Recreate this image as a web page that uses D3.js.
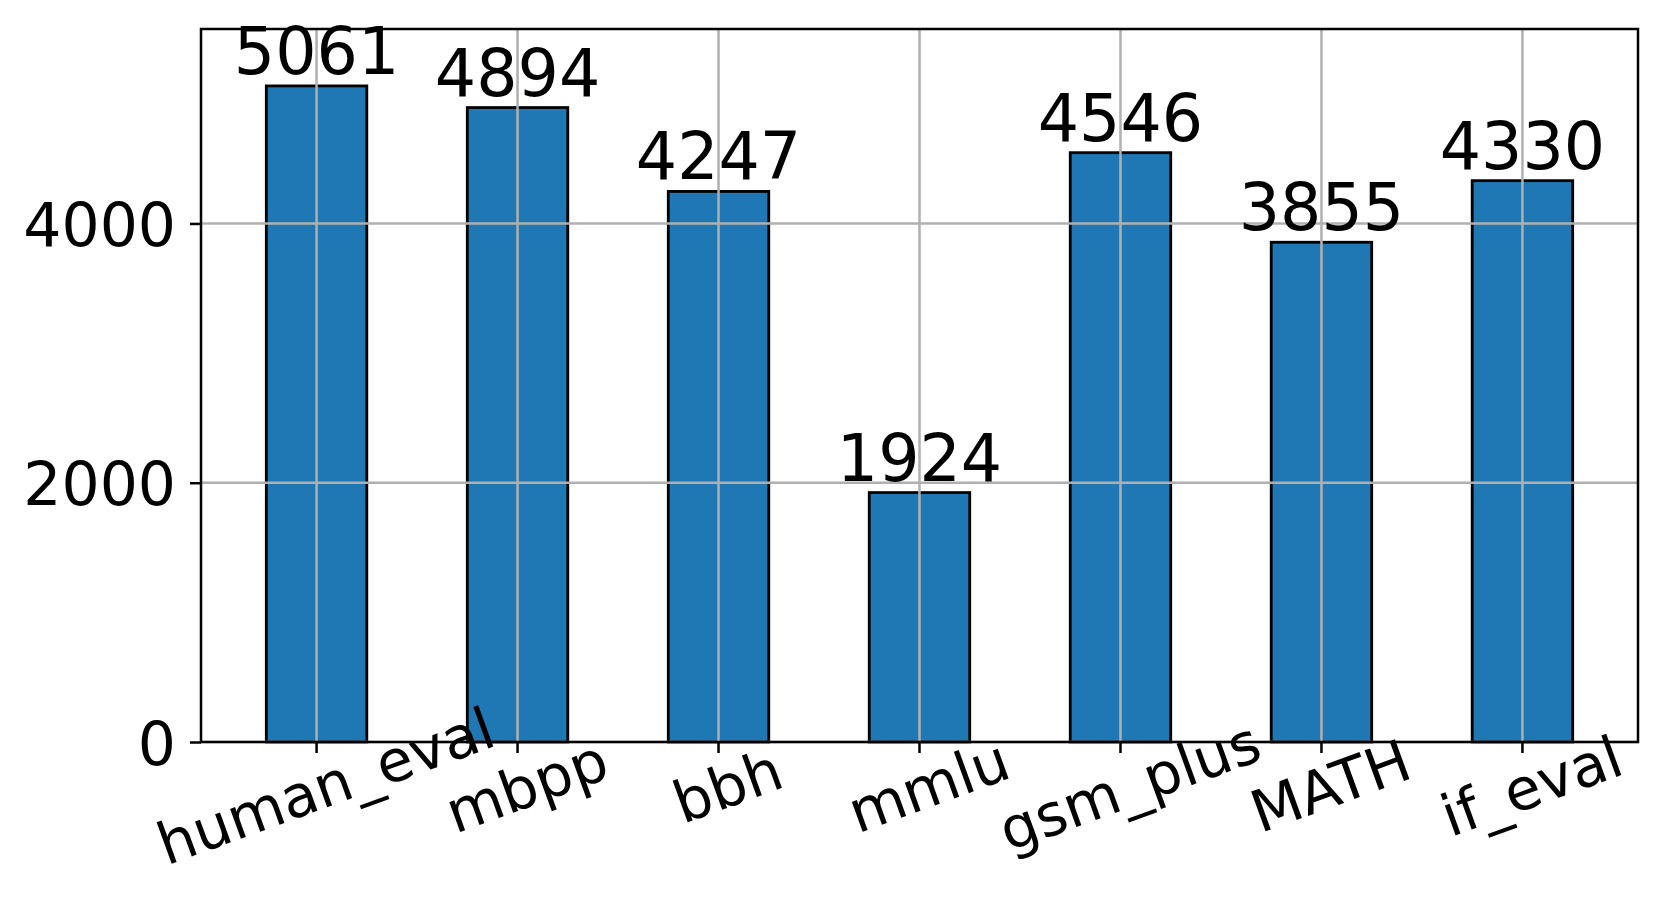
<!DOCTYPE html>
<html>
<head>
<meta charset="utf-8">
<script src="https://cdn.jsdelivr.net/npm/d3@7"></script>
<style>
  body { margin: 0; background: #fff; }
  text { font-family: "DejaVu Sans", sans-serif; fill: #000; }
</style>
</head>
<body>
<div id="chart"></div>
<script>
const categories = ["human_eval", "mbpp", "bbh", "mmlu", "gsm_plus", "MATH", "if_eval"];
const counts = [5061, 4894, 4247, 1924, 4546, 3855, 4330];
const yTicks = [0, 2000, 4000];

const W = 1661, H = 903;
const margin = {top: 29, right: 23, bottom: 161, left: 201};
const width = W - margin.left - margin.right,
	height = H - margin.top - margin.bottom;

const svg = d3.select("#chart")
	.append("svg")
	.attr("width", W)
	.attr("height", H);

const g = svg.append("g")
	.attr("transform", "translate(" + margin.left + "," + margin.top + ")");

const xScale = d3.scaleBand()
	.domain(categories)
	.range([0, width])
	.paddingInner(0.5)
	.paddingOuter(0.325);

const yScale = d3.scaleLinear()
	.domain([0, 5500])
	.range([height, 0]);

// bars
g.selectAll("rect.bar")
	.data(counts)
	.enter().append("rect")
	.attr("class", "bar")
	.attr("x", (d, i) => xScale(categories[i]))
	.attr("y", (d) => yScale(d))
	.attr("width", xScale.bandwidth())
	.attr("height", (d) => height - yScale(d))
	.style("fill", "#1f77b4")
	.style("stroke", "#000")
	.style("stroke-width", 2.8);

// grid on top of bars
const cx = (c) => xScale(c) + xScale.bandwidth() / 2;
g.selectAll("line.vgrid")
	.data(categories)
	.enter().append("line")
	.attr("x1", cx).attr("x2", cx)
	.attr("y1", 0).attr("y2", height)
	.style("stroke", "#b0b0b0")
	.style("stroke-width", 2.5);

g.selectAll("line.hgrid")
	.data(yTicks)
	.enter().append("line")
	.attr("x1", 0).attr("x2", width)
	.attr("y1", (d) => yScale(d)).attr("y2", (d) => yScale(d))
	.style("stroke", "#b0b0b0")
	.style("stroke-width", 2.5);

// axes
const xAxis = d3.axisBottom(xScale).tickSize(11).tickSizeOuter(0).tickFormat("");
const yAxis = d3.axisLeft(yScale).tickValues(yTicks).tickSize(11).tickSizeOuter(0).tickFormat("");

const gx = g.append("g")
	.attr("transform", "translate(0," + height + ")")
	.call(xAxis);
gx.select(".domain").remove();
gx.selectAll(".tick line").style("stroke", "#000").style("stroke-width", 2.5);

gx.selectAll(".tick")
	.append("text")
	.attr("transform", "translate(0,19) rotate(-20)")
	.attr("y", 47)
	.attr("text-anchor", "middle")
	.style("font-size", "58px")
	.text((d) => d);

const gy = g.append("g").call(yAxis);
gy.select(".domain").remove();
gy.selectAll(".tick line").style("stroke", "#000").style("stroke-width", 2.5);
gy.selectAll(".tick")
	.append("text")
	.attr("x", -25)
	.attr("dy", "0.37em")
	.attr("text-anchor", "end")
	.style("font-size", "60px")
	.text((d) => d);

// spines
g.append("rect")
	.attr("x", 0).attr("y", 0)
	.attr("width", width).attr("height", height)
	.style("fill", "none")
	.style("stroke", "#000")
	.style("stroke-width", 2.5);

// value labels
g.selectAll("text.value")
	.data(counts)
	.enter().append("text")
	.attr("class", "value")
	.attr("x", (d, i) => cx(categories[i]))
	.attr("y", (d) => yScale(d) - 12)
	.attr("text-anchor", "middle")
	.style("font-size", "65px")
	.text(String);
</script>
</body>
</html>
